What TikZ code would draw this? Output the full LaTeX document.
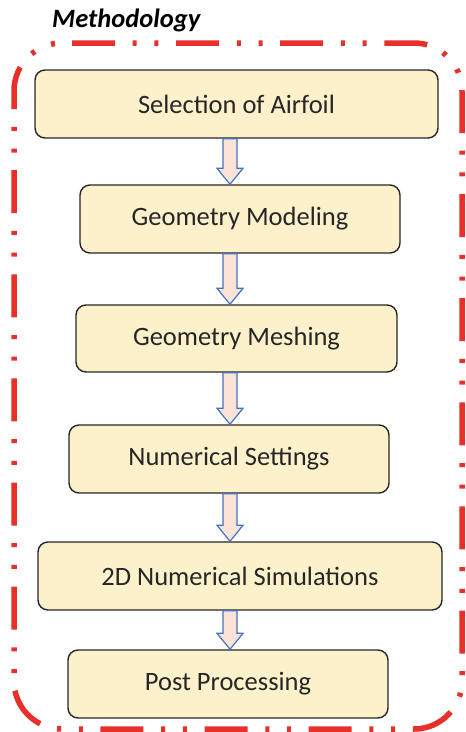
\documentclass[tikz,border=0pt]{standalone}
\usepackage{fontspec}
\setmainfont{Carlito}
\usetikzlibrary{calc}
\definecolor{boxfill}{HTML}{FDF1CB}
\definecolor{arrfill}{HTML}{FBE3D6}
\definecolor{arrline}{HTML}{4472C4}
\definecolor{frame}{HTML}{E8302A}
\begin{document}
\begin{tikzpicture}[x=1pt,y=-1pt,
  stepbox/.style={draw=black!85,line width=1.4pt,fill=boxfill,rounded corners=10pt,
    minimum height=68pt,inner sep=0pt,
    font=\fontsize{26.5}{30}\selectfont,text=black!85},
  flowarrow/.style={draw=arrline,fill=arrfill,line width=1.2pt},
  frameline/.style={draw=frame,line width=5.5pt,rounded corners=48pt,
    dash pattern=on 43pt off 17.7pt on 4pt off 17.7pt on 4pt off 17.7pt}]
\useasboundingbox (0,0) rectangle (466,732);
% outer dash-dot-dot frame, run once round from a point on the top edge
\draw[frameline] (72,43) -- (462,43) -- (462,729) -- (14,729) -- (14,43) -- (72,43);
% title
\node[anchor=base west,font=\fontsize{26.5}{30}\bfseries\itshape\selectfont,inner sep=0pt]
  (title) at (52,27) {Methodology};
% process steps
\node[stepbox,minimum width=403pt] (s1) at (236.5,104) {Selection of Airfoil};
\node[stepbox,minimum width=320pt] (s2) at (240,219) {Geometry Modeling};
\node[stepbox,minimum width=321pt,minimum height=67pt] (s3) at (236.5,338.5) {Geometry Meshing};
\node[stepbox,minimum width=320pt] (s4) at (229,459) {Numerical Settings};
\node[stepbox,minimum width=404pt] (s5) at (240,576) {2D Numerical Simulations};
\node[stepbox,minimum width=320pt] (s6) at (228,684) {Post Processing};
% block arrows between consecutive steps
\foreach \a/\b in {s1/s2,s2/s3,s3/s4,s4/s5,s5/s6}{
  \draw[flowarrow] let \p1=(\a.south), \p2=(\b.north) in
    (223,\y1) -- (237,\y1) -- (237,\y2+16pt) -- (243,\y2+16pt) -- (230,\y2)
    -- (217,\y2+16pt) -- (223,\y2+16pt) -- cycle;
}
\end{tikzpicture}
\end{document}
